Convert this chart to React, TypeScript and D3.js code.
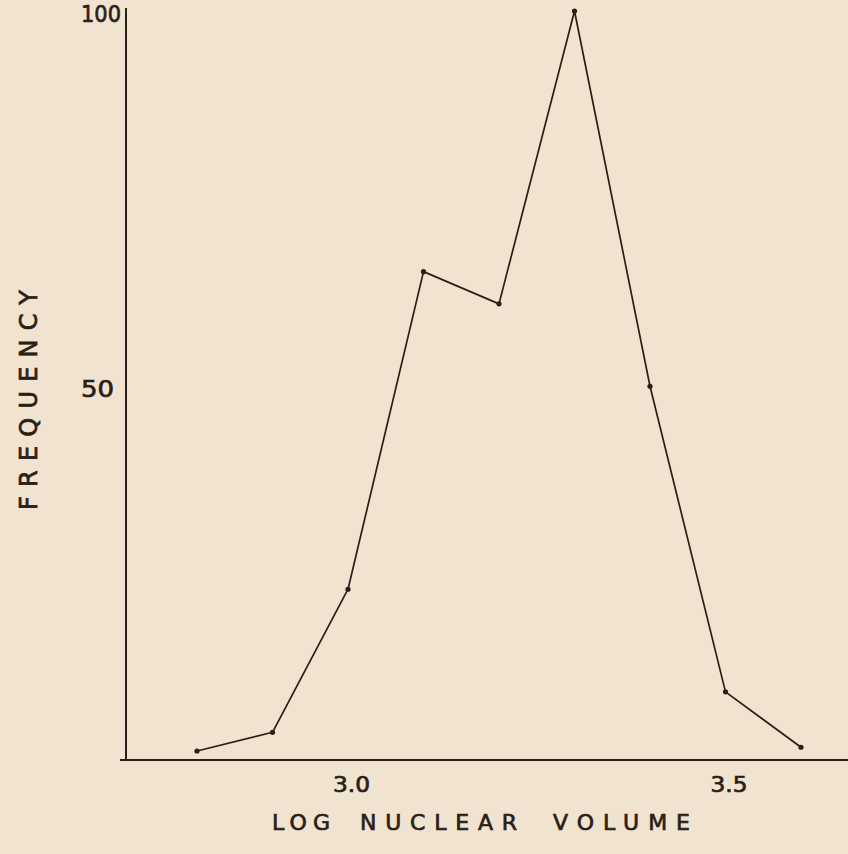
import React from "react";
import * as d3 from "d3";

const logVolume = [2.8, 2.9, 3.0, 3.1, 3.2, 3.3, 3.4, 3.5, 3.6];
const frequency = [1.2, 3.7, 22.8, 65.2, 60.9, 100, 49.9, 9.1, 1.7];
const xTickValues = [3.0, 3.5];
const yTickValues = [50, 100];
const xTitleWords = ["LOG", "NUCLEAR", "VOLUME"];
const yTitle = "FREQUENCY";

const W = 848;
const H = 854;
const ink = "#2b1e18";
const bg = "#f0e3cf";
const font = "'DejaVu Sans', 'Liberation Sans', sans-serif";

export default function App() {
  const x = d3.scaleLinear().domain([2.8, 3.6]).range([197, 801]);
  const y = d3.scaleLinear().domain([0, 100]).range([760, 11]);
  const axisX = 126;
  const baseY = y(0);
  const pts = logVolume.map((v, i) => [x(v), y(frequency[i])] as [number, number]);
  const line = d3.line();

  // word layout for x title: start x and total width per word
  const wordStarts = [272, 360, 553];
  const wordWidths = [58, 157, 137];

  const textProps = {
    fontFamily: font,
    fill: ink,
    stroke: ink,
    strokeWidth: 0.7,
  };

  return (
    <svg
      width={W}
      height={H}
      style={{ position: "absolute", left: 0, top: 0, background: bg }}
    >
      <rect x={0} y={0} width={W} height={H} fill={bg} />
      {/* axes */}
      <line x1={axisX} x2={axisX} y1={8} y2={baseY} stroke={ink} strokeWidth={2} />
      <line x1={120} x2={W} y1={baseY} y2={baseY} stroke={ink} strokeWidth={2.2} />
      {/* data */}
      <path d={line(pts) || ""} fill="none" stroke={ink} strokeWidth={1.7} strokeLinejoin="round" />
      {pts.map((p, i) => (
        <circle key={i} cx={p[0]} cy={p[1]} r={2.6} fill={ink} />
      ))}
      {/* y ticks */}
      {yTickValues.map((t) => (
        <text
          key={t}
          x={81}
          y={y(t) + 11}
          textAnchor="start"
          fontSize={23}
          textLength={t >= 100 ? 40 : 33}
          lengthAdjust="spacingAndGlyphs"
          {...textProps}
        >
          {t}
        </text>
      ))}
      {/* x ticks */}
      {xTickValues.map((t) => (
        <text
          key={t}
          x={x(t) - 15}
          y={792}
          textAnchor="start"
          fontSize={21}
          textLength={37}
          lengthAdjust="spacingAndGlyphs"
          {...textProps}
        >
          {t.toFixed(1)}
        </text>
      ))}
      {/* x title */}
      {xTitleWords.map((w, i) => (
        <text
          key={w}
          x={wordStarts[i]}
          y={830}
          fontSize={22}
          textLength={wordWidths[i]}
          lengthAdjust="spacing"
          {...textProps}
        >
          {w}
        </text>
      ))}
      {/* y title */}
      <text
        transform={`translate(37, 510) rotate(-90)`}
        x={0}
        y={0}
        fontSize={24}
        textLength={220}
        lengthAdjust="spacing"
        {...textProps}
      >
        {yTitle}
      </text>
    </svg>
  );
}
